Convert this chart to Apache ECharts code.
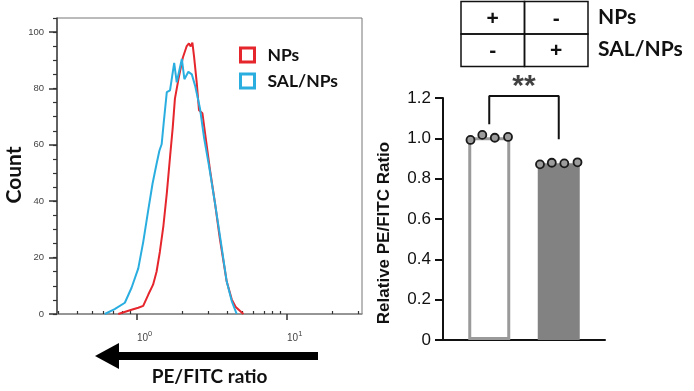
<!DOCTYPE html>
<html>
<head>
<meta charset="utf-8">
<script src="https://cdn.jsdelivr.net/npm/echarts@6/dist/echarts.min.js"></script>
<style>
  html, body { margin: 0; padding: 0; background: #fff; }
  #main { width: 694px; height: 391px; }
</style>
</head>
<body>
<div id="main"></div>
<script>
// histogram curves, [PE/FITC ratio, count]
const npsCurve = [
  [0.75, 0], [0.92, 1.5], [1.02, 2.2], [1.10, 2.9], [1.19, 6.9], [1.28, 10.4],
  [1.35, 15], [1.42, 22], [1.50, 31.3], [1.58, 42.8], [1.66, 55.6], [1.73, 66],
  [1.79, 76.4], [1.89, 83.3], [2.02, 90.9], [2.14, 94.9], [2.22, 96], [2.28, 94.9],
  [2.34, 96.3], [2.40, 91.4], [2.50, 82.2], [2.59, 72.3], [2.73, 71.2], [2.87, 62.5],
  [3.07, 50.9], [3.31, 39.3], [3.57, 26.6], [3.96, 11.6], [4.28, 5.2], [4.55, 2.5],
  [5.12, 0]
];
const salCurve = [
  [0.61, 0], [0.71, 1.7], [0.83, 4], [0.92, 9.3], [1.02, 16.2], [1.10, 25.5],
  [1.19, 37], [1.27, 46.3], [1.35, 53.2], [1.41, 57.9], [1.46, 60.2], [1.51, 68.3],
  [1.58, 78.7], [1.66, 79.3], [1.70, 78.7], [1.77, 89.1], [1.84, 82.2], [1.99, 90.5],
  [2.07, 83.3], [2.20, 85.9], [2.32, 85], [2.44, 81], [2.63, 72.9], [2.80, 62.5],
  [3.03, 52.1], [3.31, 39.3], [3.57, 27.8], [3.96, 11.6], [4.28, 4.6], [4.62, 0]
];
const majorTicksX = [1, 10];
const minorTicksX = [0.3, 0.4, 0.5, 0.6, 0.7, 0.8, 0.9, 2, 3, 4, 5, 6, 7, 8, 9, 20, 30];
const countTicks = [0, 20, 40, 60, 80, 100];

// bar chart
const categories = ['NPs', 'SAL/NPs'];
const barMeans = [1.005, 0.877];
const npsDots = [0.992, 1.017, 1.003, 1.007];
const salDots = [0.871, 0.879, 0.876, 0.881];
const dotSpread = [-0.27, -0.1, 0.08, 0.27];
const bracket = [[0, 1.07], [0, 1.21], [1, 1.21], [1, 0.995]];

// treatment table
const tableSigns = [['+', '-'], ['-', '+']];
const tableRowLabels = ['NPs', 'SAL/NPs'];

const chart = echarts.init(document.getElementById('main'));

const boldFont = 'Lato, "Open Sans", sans-serif';
const arial = '"Liberation Sans", Arial, sans-serif';

const barStyles = [
  { color: '#ffffff', borderColor: '#9a9a9a', borderWidth: 3 },
  { color: '#828282' }
];

const dots = [];
npsDots.forEach((v, i) => dots.push([0 + dotSpread[i], v]));
salDots.forEach((v, i) => dots.push([1 + dotSpread[i], v]));

// table drawn as graphic cells
const cellW = 63.5, cellH = 32.5, tableX = 461, tableY = 1.5;
const tableGraphics = [];
tableSigns.forEach((row, r) => {
  row.forEach((sign, c) => {
    tableGraphics.push({
      type: 'rect',
      shape: { x: tableX + c * cellW, y: tableY + r * cellH, width: cellW, height: cellH },
      style: { fill: 'none', stroke: '#111', lineWidth: 1.5 }
    });
    tableGraphics.push({
      type: 'text',
      x: tableX + c * cellW + cellW / 2,
      y: tableY + r * cellH + cellH / 2 + 1,
      style: {
        text: sign, fill: '#111', font: 'bold 21px ' + arial,
        textAlign: 'center', textVerticalAlign: 'middle'
      }
    });
  });
  tableGraphics.push({
    type: 'text',
    x: 598,
    y: tableY + r * cellH + cellH / 2 - 1,
    style: {
      text: tableRowLabels[r], fill: '#111', font: 'bold 21px ' + boldFont,
      textAlign: 'left', textVerticalAlign: 'middle'
    }
  });
});

const option = {
  animation: false,
  grid: [
    { left: 57, top: 18, width: 305, height: 302, show: true, borderColor: '#777', borderWidth: 1 },
    { left: 443, top: 98, width: 162, height: 242 },
    { left: 454.5, top: 98, width: 139, height: 242 }
  ],
  legend: {
    orient: 'vertical',
    left: 234,
    top: 41,
    itemWidth: 14,
    itemHeight: 14,
    itemGap: 8,
    textStyle: { fontFamily: boldFont, fontWeight: 'bold', fontSize: 17.5, color: '#111', padding: [0, 0, 0, 8] },
    data: [
      { name: 'NPs', icon: 'rect', itemStyle: { color: '#fff', borderColor: '#e5262d', borderWidth: 3 } },
      { name: 'SAL/NPs', icon: 'rect', itemStyle: { color: '#fff', borderColor: '#2aaee0', borderWidth: 3 } }
    ]
  },
  xAxis: [
    {
      type: 'log', gridIndex: 0, logBase: 10, min: 0.293, max: 31.6,
      axisLine: { lineStyle: { color: '#8a8a8a', width: 1.5 } },
      axisTick: { customValues: majorTicksX, length: 6, lineStyle: { color: '#333', width: 1.5 } },
      axisLabel: {
        customValues: majorTicksX,
        align: 'left',
        margin: 16,
        formatter: v => '{b|10}{s|' + Math.round(Math.log10(v)) + '}',
        rich: {
          b: { fontSize: 10, color: '#444', fontFamily: arial, lineHeight: 13, verticalAlign: 'bottom' },
          s: { fontSize: 7.5, color: '#444', fontFamily: arial, lineHeight: 13, verticalAlign: 'top' }
        }
      },
      splitLine: { show: false },
      name: 'PE/FITC ratio', nameLocation: 'middle', nameGap: 53,
      nameTextStyle: { fontFamily: boldFont, fontWeight: 'bold', fontSize: 19, color: '#111' }
    },
    {
      type: 'log', gridIndex: 0, logBase: 10, min: 0.293, max: 31.6,
      axisLine: { show: false },
      axisTick: { customValues: minorTicksX, length: 3, lineStyle: { color: '#333', width: 1.2 } },
      axisLabel: { show: false },
      splitLine: { show: false }
    },
    {
      type: 'category', gridIndex: 1, data: categories,
      axisLine: { lineStyle: { color: '#111', width: 2 } },
      axisTick: { show: false },
      axisLabel: { show: false }
    },
    {
      type: 'category', gridIndex: 2, data: categories,
      axisLine: { show: false },
      axisTick: { alignWithLabel: true, length: 10, lineStyle: { color: '#111', width: 2 } },
      axisLabel: { show: false }
    },
    { type: 'value', gridIndex: 2, min: -0.5, max: 1.5, show: false }
  ],
  yAxis: [
    {
      type: 'value', gridIndex: 0, min: 0, max: 105, position: 'left',
      axisLine: { show: true, lineStyle: { color: '#444', width: 1.5 } },
      axisTick: { show: true, customValues: countTicks, length: 8, lineStyle: { color: '#333', width: 1.5 } },
      axisLabel: { customValues: countTicks, margin: 13, fontSize: 9.5, color: '#444', fontFamily: arial },
      splitLine: { show: false },
      name: 'Count', nameLocation: 'middle', nameGap: 23,
      nameTextStyle: { fontFamily: boldFont, fontWeight: 'bold', fontSize: 21, color: '#111', padding: [0, 18, 0, 0] }
    },
    {
      type: 'value', gridIndex: 0, min: 0, max: 105, interval: 5, position: 'left',
      axisLine: { show: false },
      axisTick: { show: true, length: 4, lineStyle: { color: '#333', width: 1.2 } },
      axisLabel: { show: false },
      splitLine: { show: false }
    },
    {
      type: 'value', gridIndex: 1, min: 0, max: 1.2, interval: 0.2,
      axisLine: { show: true, lineStyle: { color: '#111', width: 2 } },
      axisTick: { show: true, length: 8, lineStyle: { color: '#111', width: 2 } },
      axisLabel: {
        margin: 12, fontSize: 17, color: '#111', fontFamily: arial,
        formatter: v => (v === 0 ? '0' : v.toFixed(1))
      },
      splitLine: { show: false },
      name: 'Relative PE/FITC Ratio', nameLocation: 'middle', nameGap: 50,
      nameTextStyle: { fontFamily: arial, fontWeight: 'bold', fontSize: 17, color: '#111', padding: [0, 28, 0, 0] }
    },
    { type: 'value', gridIndex: 2, min: 0, max: 1.2, show: false }
  ],
  series: [
    {
      name: 'NPs', type: 'line', xAxisIndex: 0, yAxisIndex: 0,
      data: npsCurve, symbol: 'none',
      lineStyle: { color: '#e5262d', width: 2 }, itemStyle: { color: '#e5262d' }
    },
    {
      name: 'SAL/NPs', type: 'line', xAxisIndex: 0, yAxisIndex: 0,
      data: salCurve, symbol: 'none',
      lineStyle: { color: '#2aaee0', width: 2 }, itemStyle: { color: '#2aaee0' }
    },
    {
      name: 'Relative ratio', type: 'bar', xAxisIndex: 3, yAxisIndex: 3,
      barWidth: 42,
      data: barMeans.map((v, i) => ({ value: v, itemStyle: barStyles[i] }))
    },
    {
      name: 'Replicates', type: 'scatter', xAxisIndex: 4, yAxisIndex: 3,
      data: dots, symbolSize: 8, z: 5,
      itemStyle: { color: '#9c9c9c', borderColor: '#1a1a1a', borderWidth: 1.8, opacity: 1 }
    },
    {
      name: 'Bracket', type: 'line', xAxisIndex: 4, yAxisIndex: 3,
      data: bracket, symbol: 'none', clip: false, z: 4,
      lineStyle: { color: '#111', width: 2 }
    },
    {
      name: 'Significance', type: 'scatter', xAxisIndex: 4, yAxisIndex: 3,
      data: [[0.5, 1.21]], symbolSize: 1, clip: false,
      itemStyle: { color: 'rgba(0,0,0,0)' },
      label: {
        show: true, position: 'top', distance: -6, formatter: '**',
        fontSize: 30, fontWeight: 'bold', color: '#111', fontFamily: arial
      }
    }
  ],
  graphic: [
    {
      type: 'polygon',
      shape: { points: [[95, 356], [119, 343], [119, 369]] },
      style: { fill: '#000' }
    },
    {
      type: 'rect',
      shape: { x: 117, y: 352, width: 201, height: 8 },
      style: { fill: '#000' }
    }
  ].concat(tableGraphics)
};

chart.setOption(option);
</script>
</body>
</html>
